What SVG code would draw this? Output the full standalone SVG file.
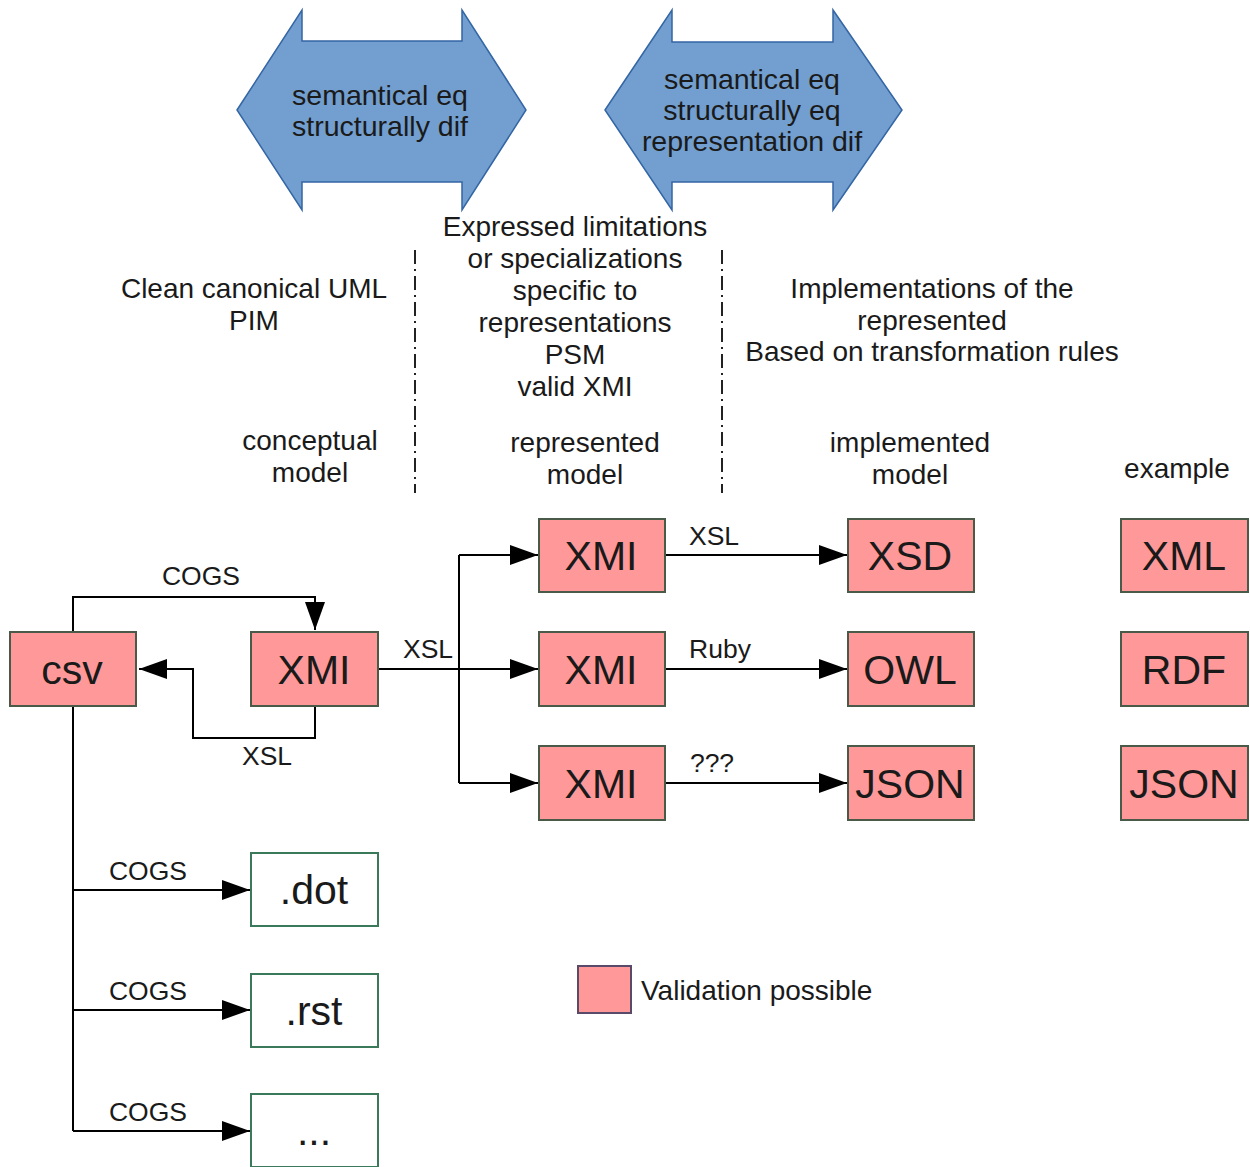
<svg xmlns="http://www.w3.org/2000/svg" width="1250" height="1167" viewBox="0 0 1250 1167">
<style>
text{font-family:"Liberation Sans",Arial,sans-serif;fill:#1a1a1a;text-anchor:middle}
.big{font-size:28.5px}
.lbl{font-size:28px}
.edge{font-size:26.5px}
.bx{font-size:41px}
.dbl{fill:#729fcf;stroke:#3465a4;stroke-width:1.5}
.val{fill:#ff9999;stroke:#4a5a48;stroke-width:2}
.out{fill:#ffffff;stroke:#3a7a5a;stroke-width:2}
.ln{fill:none;stroke:#000;stroke-width:2}
.sep{fill:none;stroke:#222;stroke-width:2;stroke-dasharray:14,5,2,5}
</style>
<defs>
<marker id="ah" markerUnits="userSpaceOnUse" markerWidth="30" markerHeight="24" refX="28" refY="10" orient="auto">
<path d="M0,0 L28,10 L0,20 z" fill="#000"/>
</marker>
</defs>
<rect width="1250" height="1167" fill="#fff"/>

<g id="arrow-left">
<path class="dbl" d="M237,110 L302,10 L302,41 L462,41 L462,10 L526,110 L462,210 L462,182 L302,182 L302,210 z"/>
<text class="big" x="380" y="105">semantical eq</text>
<text class="big" x="380" y="136">structurally dif</text>
</g>
<g id="arrow-right">
<path class="dbl" d="M605,110 L672,10 L672,42 L833,42 L833,10 L902,110 L833,210 L833,182 L672,182 L672,210 z"/>
<text class="big" x="752" y="89">semantical eq</text>
<text class="big" x="752" y="120">structurally eq</text>
<text class="big" x="752" y="151">representation dif</text>
</g>

<g id="separators">
<line class="sep" x1="415" y1="250" x2="415" y2="493"/>
<line class="sep" x1="722" y1="250" x2="722" y2="493"/>
</g>

<g id="headers">
<text class="lbl" x="254" y="298">Clean canonical UML</text>
<text class="lbl" x="254" y="330">PIM</text>
<text class="lbl" x="575" y="236">Expressed limitations</text>
<text class="lbl" x="575" y="268">or specializations</text>
<text class="lbl" x="575" y="300">specific to</text>
<text class="lbl" x="575" y="332">representations</text>
<text class="lbl" x="575" y="364">PSM</text>
<text class="lbl" x="575" y="396">valid XMI</text>
<text class="lbl" x="932" y="298">Implementations of the</text>
<text class="lbl" x="932" y="330">represented</text>
<text class="lbl" x="932" y="361">Based on transformation rules</text>
<text class="lbl" x="310" y="450">conceptual</text>
<text class="lbl" x="310" y="482">model</text>
<text class="lbl" x="585" y="452">represented</text>
<text class="lbl" x="585" y="484">model</text>
<text class="lbl" x="910" y="452">implemented</text>
<text class="lbl" x="910" y="484">model</text>
<text class="lbl" x="1177" y="478">example</text>
</g>

<g id="connectors">
<polyline class="ln" points="73,632 73,597 315,597 315,630" marker-end="url(#ah)"/>
<polyline class="ln" points="315,706 315,738 193,738 193,669 139,669" marker-end="url(#ah)"/>
<line class="ln" x1="378" y1="669" x2="459" y2="669"/>
<line class="ln" x1="459" y1="555" x2="459" y2="783"/>
<line class="ln" x1="459" y1="555" x2="538" y2="555" marker-end="url(#ah)"/>
<line class="ln" x1="459" y1="669" x2="538" y2="669" marker-end="url(#ah)"/>
<line class="ln" x1="459" y1="783" x2="538" y2="783" marker-end="url(#ah)"/>
<line class="ln" x1="666" y1="555" x2="847" y2="555" marker-end="url(#ah)"/>
<line class="ln" x1="666" y1="669" x2="847" y2="669" marker-end="url(#ah)"/>
<line class="ln" x1="666" y1="783" x2="847" y2="783" marker-end="url(#ah)"/>
<line class="ln" x1="73" y1="706" x2="73" y2="1131"/>
<line class="ln" x1="73" y1="890" x2="250" y2="890" marker-end="url(#ah)"/>
<line class="ln" x1="73" y1="1010" x2="250" y2="1010" marker-end="url(#ah)"/>
<line class="ln" x1="73" y1="1131" x2="250" y2="1131" marker-end="url(#ah)"/>
<text class="edge" x="201" y="585">COGS</text>
<text class="edge" x="267" y="765">XSL</text>
<text class="edge" x="428" y="658">XSL</text>
<text class="edge" x="714" y="545">XSL</text>
<text class="edge" x="720" y="658">Ruby</text>
<text class="edge" x="712" y="772">???</text>
<text class="edge" x="148" y="880">COGS</text>
<text class="edge" x="148" y="1000">COGS</text>
<text class="edge" x="148" y="1121">COGS</text>
</g>

<g id="csv"><rect class="val" x="10" y="632" width="126" height="74"/><text class="bx" x="72" y="684">csv</text></g>
<g id="xmi-src"><rect class="val" x="251" y="632" width="127" height="74"/><text class="bx" x="314" y="684">XMI</text></g>
<g id="xmi-1"><rect class="val" x="539" y="519" width="126" height="73"/><text class="bx" x="601" y="570">XMI</text></g>
<g id="xmi-2"><rect class="val" x="539" y="632" width="126" height="74"/><text class="bx" x="601" y="684">XMI</text></g>
<g id="xmi-3"><rect class="val" x="539" y="746" width="126" height="74"/><text class="bx" x="601" y="798">XMI</text></g>
<g id="xsd"><rect class="val" x="848" y="519" width="126" height="73"/><text class="bx" x="910" y="570">XSD</text></g>
<g id="owl"><rect class="val" x="848" y="632" width="126" height="74"/><text class="bx" x="910" y="684">OWL</text></g>
<g id="json"><rect class="val" x="848" y="746" width="126" height="74"/><text class="bx" x="910" y="798">JSON</text></g>
<g id="ex-xml"><rect class="val" x="1121" y="519" width="127" height="73"/><text class="bx" x="1184" y="570">XML</text></g>
<g id="ex-rdf"><rect class="val" x="1121" y="632" width="127" height="74"/><text class="bx" x="1184" y="684">RDF</text></g>
<g id="ex-json"><rect class="val" x="1121" y="746" width="127" height="74"/><text class="bx" x="1184" y="798">JSON</text></g>
<g id="dot"><rect class="out" x="251" y="853" width="127" height="73"/><text class="bx" x="314" y="904">.dot</text></g>
<g id="rst"><rect class="out" x="251" y="974" width="127" height="73"/><text class="bx" x="314" y="1025">.rst</text></g>
<g id="more"><rect class="out" x="251" y="1094" width="127" height="73"/><text class="bx" x="314" y="1145">...</text></g>

<g id="legend">
<rect class="val" x="578" y="966" width="53" height="47" style="stroke:#5a4a6a"/>
<text class="lbl" x="641" y="1000" style="text-anchor:start">Validation possible</text>
</g>
</svg>
